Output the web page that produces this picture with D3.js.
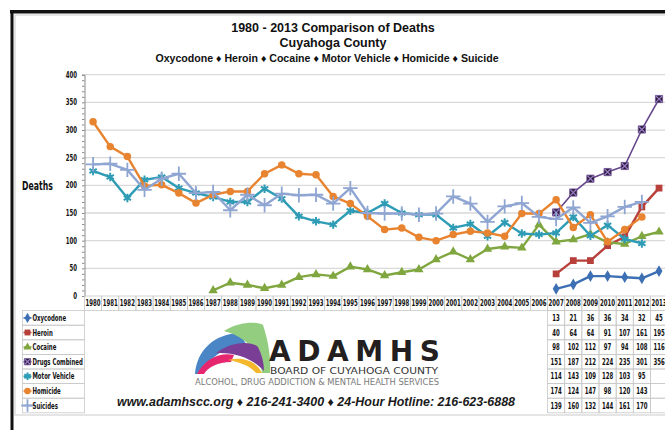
<!DOCTYPE html>
<html>
<head>
<meta charset="utf-8">
<script src="https://cdn.jsdelivr.net/npm/d3@7"></script>
<style>
body { margin: 0; background: #fff; }
svg { display: block; }
.narrow { font-family: "Liberation Sans Narrow", "Arial Narrow", "DejaVu Sans Condensed", sans-serif; font-stretch: condensed; font-weight: bold; }
</style>
</head>
<body>
<script>

var width = 665;
var height = 430;

// categories / tick labels
var years = [1980, 1981, 1982, 1983, 1984, 1985, 1986, 1987, 1988, 1989, 1990, 1991,
             1992, 1993, 1994, 1995, 1996, 1997, 1998, 1999, 2000, 2001, 2002, 2003,
             2004, 2005, 2006, 2007, 2008, 2009, 2010, 2011, 2012, 2013];
var yTicks = [0, 50, 100, 150, 200, 250, 300, 350, 400];
var seriesNames = ["Oxycodone", "Heroin", "Cocaine", "Drugs Combined", "Motor Vehicle", "Homicide", "Suicides"];

// series values (first year given in seriesStart)
var oxycodone = [13, 21, 36, 36, 34, 32, 45];                       // 2007-2013
var heroin = [40, 64, 64, 91, 107, 161, 195];                       // 2007-2013
var cocaine = [10, 24, 20, 14, 20, 34, 39, 36, 53, 48, 37, 43, 48, 66,
               80, 66, 85, 89, 87, 129, 98, 102, 112, 97, 94, 108, 116];   // 1987-2013
var drugsCombined = [151, 187, 212, 224, 235, 301, 356];            // 2007-2013
var motorVehicle = [226, 215, 177, 210, 215, 195, 186, 179, 170, 170, 194, 176, 144, 135, 129,
                    154, 150, 167, 150, 147, 147, 123, 130, 108, 133, 113, 111,
                    114, 143, 109, 128, 103, 95];                    // 1980-2012
var homicide = [315, 270, 252, 199, 201, 186, 168, 183, 189, 189, 221, 237, 221, 219, 180,
                167, 144, 120, 123, 106, 100, 111, 117, 114, 108, 149, 149,
                174, 124, 147, 98, 120, 143];                        // 1980-2012
var suicides = [238, 239, 228, 192, 212, 221, 186, 188, 155, 183, 164, 185, 182, 183, 167,
                195, 150, 149, 149, 147, 149, 180, 167, 134, 162, 168, 143,
                139, 160, 132, 144, 161, 170];                       // 1980-2012
var seriesStart = [2007, 2007, 1987, 2007, 1980, 1980, 1980];
var tableFrom = 2007;

var colors = ["#3d6fb4", "#b8403b", "#7fa63f", "#65468c", "#2f9cb5", "#e8832f", "#8fa5d2"];

var seriesValues = [oxycodone, heroin, cocaine, drugsCombined, motorVehicle, homicide, suicides];

// pair each value with its year
var series = seriesNames.map(function(name, i) {
	return {
		name: name,
		color: colors[i],
		points: seriesValues[i].map(function(v, j) {
			return {year: seriesStart[i] + j, value: v};
		})
	};
});

var svg = d3.select("body").append("svg")
	.attr("width", width)
	.attr("height", height);

// frame
svg.append("rect").attr("x", 15).attr("y", 15).attr("width", 660).attr("height", 400)
	.attr("fill", "none").attr("stroke", "#d4d4d4").attr("stroke-width", 1.2);
svg.append("rect").attr("x", 10).attr("y", 10).attr("width", 660).attr("height", 3.5).attr("fill", "#111");
svg.append("rect").attr("x", 10.5).attr("y", 10).attr("width", 3).attr("height", 425).attr("fill", "#111");

// titles
var titles = svg.append("g")
	.attr("font-family", "'Liberation Sans', Arial, sans-serif")
	.attr("font-weight", "bold")
	.attr("text-anchor", "middle")
	.attr("fill", "#111");
titles.append("text").attr("x", 333).attr("y", 32).attr("font-size", 12.5)
	.text("1980 - 2013 Comparison of Deaths");
titles.append("text").attr("x", 333).attr("y", 47).attr("font-size", 12.5)
	.text("Cuyahoga County");
titles.append("text").attr("x", 327).attr("y", 62).attr("font-size", 10.6)
	.text("Oxycodone \u2666 Heroin \u2666 Cocaine \u2666 Motor Vehicle \u2666 Homicide \u2666 Suicide");

// scales
var x = d3.scaleBand()
	.domain(years)
	.range([84.5, 84.5 + years.length * 17.15]);

var y = d3.scaleLinear()
	.domain([0, 400])
	.range([296, 74.7]);

// gridlines
svg.append("g")
	.selectAll("line")
	.data(yTicks.slice(1))
	.enter().append("line")
	.attr("x1", 84.5).attr("x2", width)
	.attr("y1", function(d) { return y(d); })
	.attr("y2", function(d) { return y(d); })
	.attr("stroke", "#d9d9d9")
	.attr("stroke-width", 1.3);

// y axis with minor ticks
var yAxis = d3.axisLeft(y)
	.tickValues(d3.range(0, 401, 10))
	.tickSize(2.5)
	.tickPadding(5)
	.tickFormat(function(d) { return d % 50 === 0 ? d : ""; });

var gy = svg.append("g")
	.attr("transform", "translate(84.5,0)")
	.call(yAxis);
gy.select(".domain").attr("stroke", "#8a8a8a");
gy.selectAll(".tick line").attr("stroke", "#8a8a8a");
gy.selectAll("text")
	.attr("class", "narrow")
	.attr("font-family", null)
	.attr("font-size", 8)
	.attr("fill", "#111");

svg.append("text")
	.attr("class", "narrow")
	.attr("x", 22).attr("y", 190)
	.attr("font-size", 11.5)
	.attr("fill", "#111")
	.text("Deaths");

// marker shapes
function drawMarker(sel, i, size) {
	var s = size || 1;
	if (i === 0) {
		sel.append("path").attr("d", d3.symbol().type(d3.symbolDiamond).size(40 * s))
			.attr("fill", colors[0]);
	} else if (i === 1) {
		sel.append("path").attr("d", d3.symbol().type(d3.symbolSquare).size(46 * s))
			.attr("fill", colors[1]);
	} else if (i === 2) {
		sel.append("path").attr("d", d3.symbol().type(d3.symbolTriangle).size(38 * s))
			.attr("fill", colors[2]);
	} else if (i === 3) {
		sel.append("path").attr("d", d3.symbol().type(d3.symbolSquare).size(52 * s))
			.attr("fill", "#2a1d3a").attr("stroke", "#6d4f96").attr("stroke-width", 0.8);
		sel.append("path").attr("d", d3.symbol().type(d3.symbolTimes).size(26 * s))
			.attr("fill", "none").attr("stroke", "#9b7cc6").attr("stroke-width", 1.3);
	} else if (i === 4) {
		sel.append("path").attr("d", d3.symbol().type(d3.symbolAsterisk).size(50 * s))
			.attr("fill", "none").attr("stroke", colors[4]).attr("stroke-width", 2);
	} else if (i === 5) {
		sel.append("path").attr("d", d3.symbol().type(d3.symbolCircle).size(44 * s))
			.attr("fill", colors[5]);
	} else {
		sel.append("path").attr("d", d3.symbol().type(d3.symbolPlus).size(70 * s))
			.attr("fill", "none").attr("stroke", colors[6]).attr("stroke-width", 1.8);
	}
}

var line = d3.line()
	.x(function(d) { return x(d.year) + x.bandwidth() / 2; })
	.y(function(d) { return y(d.value); });

var lines = svg.append("g");
series.forEach(function(s, i) {
	var g = lines.append("g");
	g.append("path")
		.datum(s.points)
		.attr("d", line)
		.attr("fill", "none")
		.attr("stroke", s.color)
		.attr("stroke-width", i === 3 ? 1.6 : 2.4)
		.attr("stroke-linejoin", "round");
	g.selectAll(".m")
		.data(s.points)
		.enter().append("g")
		.attr("transform", function(d) {
			return "translate(" + (x(d.year) + x.bandwidth() / 2) + "," + y(d.value) + ")";
		})
		.each(function() { drawMarker(d3.select(this), i); });
});

// data table
var tableTop = 296;
var rowH = 14.6;
var gridColor = "#c9c9c9";
var table = svg.append("g").attr("class", "narrow").attr("fill", "#111");

// year row
years.forEach(function(yr) {
	table.append("rect")
		.attr("x", x(yr)).attr("y", tableTop)
		.attr("width", x.bandwidth()).attr("height", rowH)
		.attr("fill", "none").attr("stroke", gridColor).attr("stroke-width", 0.8);
	table.append("text")
		.attr("x", x(yr) + x.bandwidth() / 2).attr("y", tableTop + rowH / 2 + 3)
		.attr("text-anchor", "middle")
		.attr("font-size", 8)
		.text(yr);
});

// legend column and value cells
var tableYears = years.filter(function(yr) { return yr >= tableFrom; });
series.forEach(function(s, i) {
	var rowY = tableTop + rowH * (i + 1);
	table.append("rect")
		.attr("x", 22.5).attr("y", rowY)
		.attr("width", 62).attr("height", rowH)
		.attr("fill", "none").attr("stroke", gridColor).attr("stroke-width", 0.8);
	table.append("line")
		.attr("x1", 23.5).attr("x2", 31.5)
		.attr("y1", rowY + rowH / 2).attr("y2", rowY + rowH / 2)
		.attr("stroke", s.color).attr("stroke-width", 1.6);
	var icon = table.append("g").attr("transform", "translate(27.5," + (rowY + rowH / 2) + ")");
	drawMarker(icon, i, 0.75);
	table.append("text")
		.attr("x", 32.5).attr("y", rowY + rowH / 2 + 3)
		.attr("font-size", 8)
		.text(s.name);

	tableYears.forEach(function(yr) {
		table.append("rect")
			.attr("x", x(yr)).attr("y", rowY)
			.attr("width", x.bandwidth()).attr("height", rowH)
			.attr("fill", "none").attr("stroke", gridColor).attr("stroke-width", 0.8);
		var p = s.points.find(function(d) { return d.year === yr; });
		if (p) {
			table.append("text")
				.attr("x", x(yr) + x.bandwidth() / 2).attr("y", rowY + rowH / 2 + 3)
				.attr("text-anchor", "middle")
				.attr("font-size", 8)
				.text(p.value);
		}
	});
});

// squeeze the bold labels to a narrow face (no narrow font installed)
svg.selectAll("text.narrow, .narrow text").each(function() {
	var w = this.getComputedTextLength();
	d3.select(this)
		.attr("textLength", w * 0.75)
		.attr("lengthAdjust", "spacingAndGlyphs");
});

// ADAMHS logo
var logo = svg.append("g");
var logoShapes = [
	{c: "#4a86c6", d: "M195,374 C197,350 214,334 240,333 L247,346 C226,346 209,356 203,374 Z"},
	{c: "#93cd7f", d: "M224,331 C238,322 256,321 263,325 C268,340 271,356 270,373 L262,373 C260,354 248,337 224,331 Z"},
	{c: "#7a3e97", d: "M216,353 C232,341 252,341 258,347 C262,355 264,363 264,371 C254,360 238,352 216,353 Z"},
	{c: "#e6276f", d: "M197,374 C205,359 220,352 234,355 L231,362 C218,362 208,367 204,374 Z"},
	{c: "#f5b82c", d: "M228,360 C244,356 257,362 262,373 L256,373 C250,366 240,362 228,360 Z"}
];
logo.selectAll("path")
	.data(logoShapes)
	.enter().append("path")
	.attr("d", function(d) { return d.d; })
	.attr("fill", function(d) { return d.c; });

logo.append("text")
	.attr("x", 269).attr("y", 361)
	.attr("font-family", "'DejaVu Sans', sans-serif")
	.attr("font-weight", "bold")
	.attr("font-size", 28)
	.attr("textLength", 171)
	.attr("lengthAdjust", "spacing")
	.attr("fill", "#231f20")
	.text("ADAMHS");
logo.append("text")
	.attr("x", 270).attr("y", 374)
	.attr("font-family", "'DejaVu Sans', sans-serif")
	.attr("font-size", 9.5)
	.attr("textLength", 168)
	.attr("lengthAdjust", "spacingAndGlyphs")
	.attr("fill", "#333")
	.text("BOARD OF CUYAHOGA COUNTY");
logo.append("text")
	.attr("x", 195).attr("y", 384.5)
	.attr("font-family", "'DejaVu Sans', sans-serif")
	.attr("font-size", 8)
	.attr("textLength", 244)
	.attr("lengthAdjust", "spacingAndGlyphs")
	.attr("fill", "#7a7a7a")
	.text("ALCOHOL, DRUG ADDICTION & MENTAL HEALTH SERVICES");

svg.append("text")
	.attr("x", 117).attr("y", 405.5)
	.attr("font-family", "'Liberation Sans', Arial, sans-serif")
	.attr("font-weight", "bold")
	.attr("font-style", "italic")
	.attr("font-size", 12)
	.attr("textLength", 398)
	.attr("lengthAdjust", "spacingAndGlyphs")
	.attr("fill", "#1a1a1a")
	.text("www.adamhscc.org \u2666 216-241-3400 \u2666 24-Hour Hotline: 216-623-6888");

</script>
</body>
</html>
